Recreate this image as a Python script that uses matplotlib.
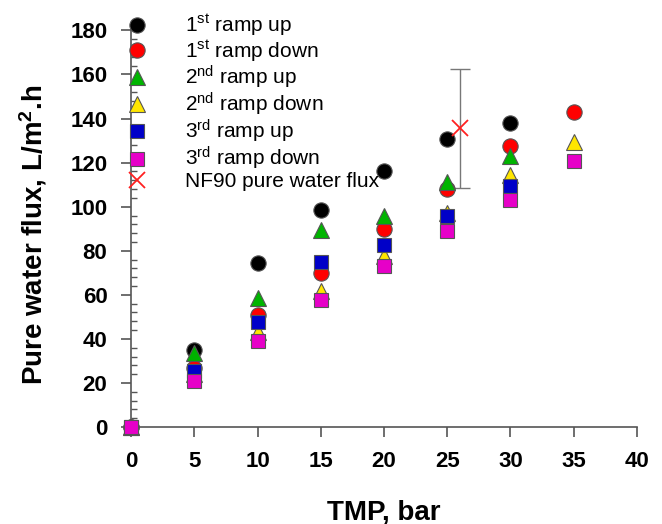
import numpy as np
import matplotlib
matplotlib.use("Agg")
import matplotlib.pyplot as plt
from matplotlib.ticker import MultipleLocator

plt.rcParams['font.family'] = ['Liberation Sans', 'DejaVu Sans']
plt.rcParams['mathtext.default'] = 'regular'

# data
tmp = [0, 5, 10, 15, 20, 25, 30, 35]
up1 = [0, 35, 74.4, 98.6, 116.4, 130.5, 138, np.nan]
down1 = [0, 27, 50.9, 69.8, 90, 108, 127.7, 143]
up2 = [0, 33.6, 58.5, 89.5, 95.9, 111, 122.9, np.nan]
down2 = [0, 24, 43.3, 61.8, 77.4, 97, 114.5, 129.4]
up3 = [0, 25.6, 47.6, 75, 82.4, 95.9, 109.5, np.nan]
down3 = [0, 21, 39, 57.7, 72.9, 88.8, 103.2, 120.6]
labels = ['$1^{st}$ ramp up', '$1^{st}$ ramp down', '$2^{nd}$ ramp up',
          '$2^{nd}$ ramp down', '$3^{rd}$ ramp up', '$3^{rd}$ ramp down']
nf90_x = 26
nf90_y = 135.5
nf90_err = 27

series = [up1, down1, up2, down2, up3, down3]
markers = ['o', 'o', '^', '^', 's', 's']
colors = ['#000000', '#ff0000', '#00b400', '#ffe600', '#0000c8', '#e600c8']
sizes = [11, 11, 11, 11, 10, 10]

fig = plt.figure(figsize=(6.62, 5.24), dpi=100)
ax = fig.add_axes([0.198, 0.185, 0.764, 0.757])

for y, m, c, s, lab in zip(series, markers, colors, sizes, labels):
    ax.plot(tmp, y, linestyle='none', marker=m, markersize=s, color=c,
            markeredgecolor='#555555', markeredgewidth=0.8, label=lab,
            clip_on=False, zorder=3)

ax.errorbar(nf90_x, nf90_y, yerr=nf90_err, fmt='none', ecolor='#777777',
            elinewidth=1, capsize=7, capthick=1, zorder=2)
ax.plot(nf90_x, nf90_y, linestyle='none', marker='x', markersize=11,
        color='#ff2020', markeredgewidth=1.3, label='NF90 pure water flux', zorder=4)

ax.set_xlim(0, 40)
ax.set_ylim(0, 180)
ax.xaxis.set_major_locator(MultipleLocator(5))
ax.yaxis.set_major_locator(MultipleLocator(20))
ax.yaxis.set_minor_locator(MultipleLocator(4))

for side in ['top', 'right']:
    ax.spines[side].set_visible(False)
for side in ['left', 'bottom']:
    ax.spines[side].set_color('#555555')
    ax.spines[side].set_linewidth(1.2)

ax.tick_params(axis='both', which='major', direction='out', length=7, width=1.2,
               color='#555555', labelsize=16, pad=10)
ax.tick_params(axis='y', which='minor', direction='in', length=4, width=1,
               color='#555555')
for t in ax.get_xticklabels() + ax.get_yticklabels():
    t.set_fontweight('bold')

ax.set_xlabel('TMP, bar', fontsize=20, fontweight='bold', labelpad=20)
ax.set_ylabel('Pure water flux, L/m$^{2}$.h', fontsize=20, fontweight='bold')
ax.yaxis.set_label_coords(-0.163, 0.485)

ax.legend(loc='upper left', bbox_to_anchor=(-0.009, 1.045), frameon=False,
          fontsize=15, handlelength=1, handletextpad=1.8, labelspacing=0.0,
          borderpad=0, borderaxespad=0, numpoints=1)

fig.savefig('out.png', dpi=100)
